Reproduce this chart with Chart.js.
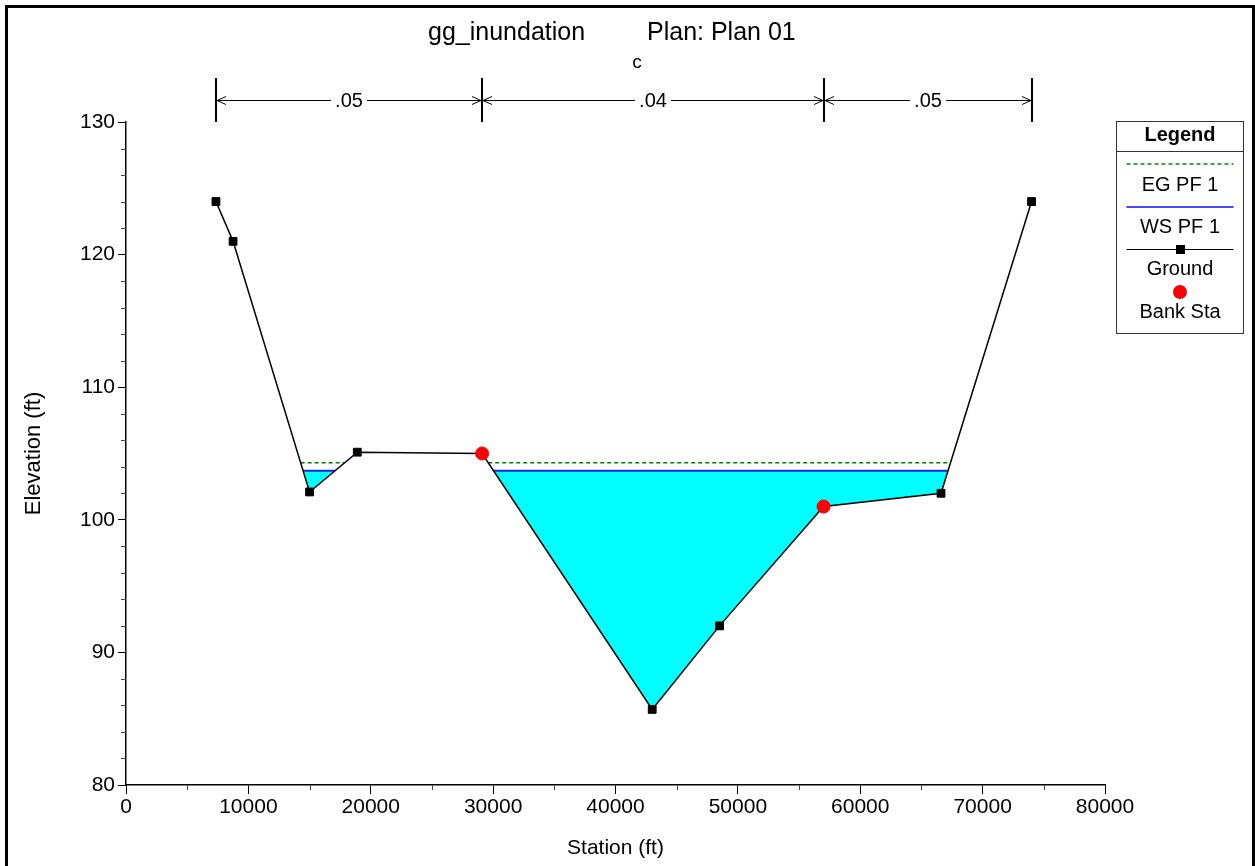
<!DOCTYPE html>
<html>
<head>
<meta charset="utf-8">
<title>gg_inundation - Plan 01</title>
<script src="https://cdn.jsdelivr.net/npm/chart.js@4.4.1/dist/chart.umd.min.js"></script>
<style>
    html, body { margin: 0; padding: 0; background: #fff; overflow: hidden; }
    #xsChart { display: block; }
</style>
</head>
<body>
<canvas id="xsChart" width="1255" height="866"></canvas>
<script>
// --- DATA ---
const groundSta  = [7350, 8750, 15000, 18900, 29100, 43000, 48500, 57000, 66600, 74000];
const groundElev = [124, 121, 102.1, 105.1, 105, 85.7, 92, 101, 102, 124];

const bankSta  = [29100, 57000];
const bankElev = [105, 101];

// water surface / energy grade: elevation + wet extents (left pocket, main channel)
const wsElev   = 103.7;
const wsLeft   = [14470, 17080];
const wsMain   = [30040, 67170];
const egElev   = 104.3;
const egLeft   = [14270, 17860];
const egMain   = [29600, 67370];

// Manning's n breaks along the top
const nBreaks = [7350, 29100, 57000, 74000];
const nValues = ['.05', '.04', '.05'];

const xTicks = [0, 10000, 20000, 30000, 40000, 50000, 60000, 70000, 80000];
const yTicks = [80, 90, 100, 110, 120, 130];

const FONT = '"Liberation Sans", Arial, sans-serif';

// two wet segments with a gap between them
function wetLine(left, main, elev) {
    return [
        { x: left[0], y: elev }, { x: left[1], y: elev },
        { x: (left[1] + main[0]) / 2, y: null },
        { x: main[0], y: elev }, { x: main[1], y: elev }
    ];
}

// --- DECORATION: frame, titles, n-values, minor ticks, legend ---
const decorPlugin = {
    id: 'decor',
    afterDraw(chart) {
        const { ctx, chartArea: area, scales: { x, y } } = chart;
        ctx.save();

        // outer frame
        ctx.strokeStyle = '#000';
        ctx.lineWidth = 3;
        ctx.strokeRect(6.5, 6.5, 1247, 900);

        // titles
        ctx.fillStyle = '#000';
        ctx.textBaseline = 'alphabetic';
        ctx.textAlign = 'left';
        ctx.font = `25px ${FONT}`;
        ctx.fillText('gg_inundation', 428, 40);
        ctx.fillText('Plan: Plan 01', 647, 40);
        ctx.textAlign = 'center';
        ctx.textBaseline = 'middle';
        ctx.font = `19px ${FONT}`;
        ctx.fillText('c', 637, 63);

        // minor ticks
        ctx.strokeStyle = '#444';
        ctx.lineWidth = 1;
        ctx.beginPath();
        for (let v = 5000; v < 80000; v += 10000) {
            const px = Math.round(x.getPixelForValue(v)) + 0.5;
            ctx.moveTo(px, area.bottom);
            ctx.lineTo(px, area.bottom + 5);
        }
        for (let v = 82; v < 130; v += 2) {
            if (v % 10 === 0) continue;
            const py = Math.round(y.getPixelForValue(v)) + 0.5;
            ctx.moveTo(area.left - 5, py);
            ctx.lineTo(area.left, py);
        }
        ctx.stroke();

        // manning's n dimension lines
        const yTop = 78, yMid = 100.5, yBot = area.top;
        ctx.strokeStyle = '#000';
        ctx.lineWidth = 2;
        ctx.beginPath();
        nBreaks.forEach(s => {
            const px = Math.round(x.getPixelForValue(s));
            ctx.moveTo(px, yTop);
            ctx.lineTo(px, yBot);
        });
        ctx.stroke();

        ctx.font = `20px ${FONT}`;
        ctx.lineWidth = 1;
        nValues.forEach((label, i) => {
            const x0 = Math.round(x.getPixelForValue(nBreaks[i])) + 1;
            const x1 = Math.round(x.getPixelForValue(nBreaks[i + 1])) - 1;
            const mid = (x0 + x1) / 2;
            const half = ctx.measureText(label).width / 2 + 4;
            ctx.beginPath();
            ctx.moveTo(x0, yMid); ctx.lineTo(mid - half, yMid);
            ctx.moveTo(mid + half, yMid); ctx.lineTo(x1, yMid);
            // arrow heads
            ctx.moveTo(x0 + 9, yMid - 4); ctx.lineTo(x0, yMid); ctx.lineTo(x0 + 9, yMid + 4);
            ctx.moveTo(x1 - 9, yMid - 4); ctx.lineTo(x1, yMid); ctx.lineTo(x1 - 9, yMid + 4);
            ctx.stroke();
            ctx.fillText(label, mid, yMid + 1);
        });

        // legend box
        const lx = 1116.5, ly = 121.5, lw = 127, lh = 212, cx = lx + lw / 2;
        ctx.strokeStyle = '#333';
        ctx.lineWidth = 1;
        ctx.strokeRect(lx, ly, lw, lh);
        ctx.beginPath();
        ctx.moveTo(lx, 151.5); ctx.lineTo(lx + lw, 151.5);
        ctx.stroke();

        ctx.font = `bold 20px ${FONT}`;
        ctx.fillText('Legend', cx, 135);
        ctx.font = `20px ${FONT}`;

        const l0 = lx + 10, l1 = lx + lw - 10;
        // EG
        ctx.strokeStyle = '#008800';
        ctx.lineWidth = 1.3;
        ctx.setLineDash([4, 3]);
        ctx.beginPath(); ctx.moveTo(l0, 164); ctx.lineTo(l1, 164); ctx.stroke();
        ctx.setLineDash([]);
        ctx.fillText('EG PF 1', cx, 185);
        // WS
        ctx.strokeStyle = '#4848ff';
        ctx.lineWidth = 2;
        ctx.beginPath(); ctx.moveTo(l0, 207); ctx.lineTo(l1, 207); ctx.stroke();
        ctx.fillText('WS PF 1', cx, 227);
        // Ground
        ctx.strokeStyle = '#000';
        ctx.lineWidth = 1;
        ctx.beginPath(); ctx.moveTo(l0, 249.5); ctx.lineTo(l1, 249.5); ctx.stroke();
        ctx.fillRect(cx - 4, 245, 9, 9);
        ctx.fillText('Ground', cx, 269);
        // Bank Sta
        ctx.fillStyle = '#ff0000';
        ctx.beginPath(); ctx.arc(cx, 292, 7, 0, Math.PI * 2); ctx.fill();
        ctx.fillStyle = '#000';
        ctx.fillText('Bank Sta', cx, 312);

        ctx.restore();
    }
};

const ctx = document.getElementById('xsChart');

new Chart(ctx, {
    type: 'line',
    data: {
        datasets: [
            {
                label: 'Bank Sta',
                data: bankSta.map((s, i) => ({ x: s, y: bankElev[i] })),
                showLine: false,
                pointStyle: 'circle',
                pointRadius: 6.5,
                pointBackgroundColor: '#ff0000',
                pointBorderColor: '#ff0000',
                pointBorderWidth: 1
            },
            {
                label: 'Ground',
                data: groundSta.map((s, i) => ({ x: s, y: groundElev[i] })),
                borderColor: '#000',
                borderWidth: 1.5,
                pointStyle: 'rect',
                pointRadius: 5.5,
                pointBackgroundColor: '#000',
                pointBorderColor: '#000',
                pointBorderWidth: 1,
                fill: false
            },
            {
                label: 'WS PF 1',
                data: wetLine(wsLeft, wsMain, wsElev),
                borderColor: 'rgb(36,36,220)',
                borderWidth: 2,
                backgroundColor: '#00ffff',
                pointRadius: 0,
                spanGaps: false,
                fill: { target: 1 }
            },
            {
                label: 'EG PF 1',
                data: wetLine(egLeft, egMain, egElev),
                borderColor: '#007a00',
                borderWidth: 1.4,
                borderDash: [4, 3],
                pointRadius: 0,
                spanGaps: false,
                fill: false
            }
        ]
    },
    options: {
        responsive: false,
        animation: false,
        devicePixelRatio: 1,
        layout: { padding: { top: 122, right: 150, left: 0, bottom: 0 } },
        plugins: {
            legend: { display: false },
            tooltip: { enabled: false },
            title: { display: false }
        },
        scales: {
            x: {
                type: 'linear',
                min: xTicks[0],
                max: xTicks[xTicks.length - 1],
                afterBuildTicks: s => { s.ticks = xTicks.map(v => ({ value: v })); },
                afterFit: s => { s.height = 81; },
                ticks: {
                    color: '#000',
                    font: { family: FONT, size: 21 },
                    padding: 1,
                    maxRotation: 0,
                    autoSkip: false,
                    callback: v => String(v)
                },
                grid: {
                    drawOnChartArea: false,
                    tickLength: 9,
                    tickColor: '#000',
                    tickWidth: 1
                },
                border: { color: '#000', width: 1.5 },
                title: {
                    display: true,
                    text: 'Station (ft)',
                    color: '#000',
                    font: { family: FONT, size: 21 },
                    padding: { top: 0, bottom: 5 }
                }
            },
            y: {
                type: 'linear',
                min: yTicks[0],
                max: yTicks[yTicks.length - 1],
                afterBuildTicks: s => { s.ticks = yTicks.map(v => ({ value: v })); },
                afterFit: s => { s.width = 126; },
                ticks: {
                    color: '#000',
                    font: { family: FONT, size: 21 },
                    padding: 3,
                    callback: v => String(v)
                },
                grid: {
                    drawOnChartArea: false,
                    tickLength: 8,
                    tickColor: '#000',
                    tickWidth: 1
                },
                border: { color: '#000', width: 1.5 },
                title: {
                    display: true,
                    text: 'Elevation (ft)',
                    color: '#000',
                    font: { family: FONT, size: 22 },
                    padding: { top: 21, bottom: 0 }
                }
            }
        }
    },
    plugins: [decorPlugin]
});
</script>
</body>
</html>
